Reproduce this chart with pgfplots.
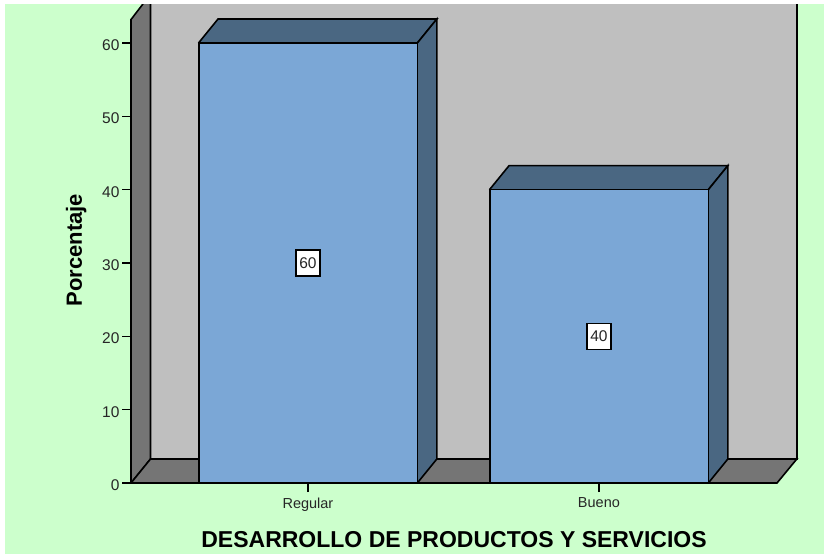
\documentclass[border=0pt]{standalone}
\usepackage{pgfplots}
\usepackage{fontspec}
\setmainfont{Liberation Sans}
\pgfplotsset{compat=1.18}
\definecolor{bgG}{HTML}{CCFFCC}
\definecolor{wallG}{HTML}{BFBFBF}
\definecolor{floorG}{HTML}{757575}
\definecolor{barB}{HTML}{7BA7D6}
\definecolor{barD}{HTML}{4A6782}
\begin{document}
\begin{tikzpicture}[x=1pt,y=1pt]
\useasboundingbox (0,0) rectangle (824,554);
\fill[white] (0,0) rectangle (824,554);
\fill[bgG] (5,0) rectangle (824,550);
\begin{axis}[
  at={(131pt,71pt)}, anchor=south west,
  scale only axis, width=646pt, height=479pt,
  xmin=-0.608, xmax=1.612, ymin=0, ymax=65.32,
  clip=false,
  axis line style={draw=none},
  xtick={0,1}, xticklabels={Regular,Bueno},
  ytick={0,10,20,30,40,50,60},
  xtick pos=bottom, ytick pos=left,
  tick align=outside, major tick length=9pt,
  tick style={black, line width=1.2pt},
  tick label style={font=\fontsize{15.5}{18}\selectfont, text=black!85},
  xticklabel style={font=\fontsize{14.5}{16}\selectfont, yshift=-2pt},
  yticklabel style={/pgf/number format/assume math mode=true, xshift=1pt, yshift=-2pt},
  xlabel={\bfseries DESARROLLO DE PRODUCTOS Y SERVICIOS},
  xlabel style={font=\fontsize{23}{26}\selectfont, at={(axis description cs:0.5,0)}, anchor=north, yshift=-45pt},
  ylabel={\bfseries Porcentaje},
  ylabel style={font=\fontsize{22}{24}\selectfont, at={(axis description cs:0,0.486)}, anchor=south, yshift=41pt},
]
% back wall
\addplot[fill=wallG, draw=black, line width=1.6pt] coordinates {(-0.541,3.27) (1.68,3.27) (1.68,66) (-0.541,66)};
% left wall
\addplot[fill=floorG, draw=black, line width=1.6pt] coordinates {(-0.608,0) (-0.541,3.27) (-0.541,66) (-0.567,66) (-0.567,65.32) (-0.608,63.2) (-0.608,0)};
% floor
\addplot[fill=floorG, draw=black, line width=1.6pt] coordinates {(-0.608,0) (1.612,0) (1.68,3.27) (-0.541,3.27) (-0.608,0)};
% bar depth faces
\addplot[fill=barD, draw=black, line width=1.6pt] coordinates {(-0.376,60) (-0.309,63.27) (0.443,63.27) (0.376,60)};
\addplot[fill=barD, draw=black, line width=1.6pt] coordinates {(0.376,0) (0.443,3.27) (0.443,63.27) (0.376,60)};
\addplot[fill=barD, draw=black, line width=1.6pt] coordinates {(0.624,40) (0.691,43.27) (1.443,43.27) (1.376,40)};
\addplot[fill=barD, draw=black, line width=1.6pt] coordinates {(1.376,0) (1.443,3.27) (1.443,43.27) (1.376,40)};
% bar fronts
\addplot[ybar, bar width=218.5pt, fill=barB, draw=black, line width=1.6pt, bar shift=0.5pt] coordinates {(0,60) (1,40)};
\draw[black, line width=1.6pt] (axis cs:-0.608,0) -- (axis cs:1.612,0);
\node[fill=white, draw=black, line width=1.2pt, inner sep=0pt, minimum width=24pt, minimum height=26pt, font=\fontsize{15.5}{18}\selectfont, text=black!85] at (axis cs:0,30) {60};
\node[fill=white, draw=black, line width=1.2pt, inner sep=0pt, minimum width=24pt, minimum height=26pt, font=\fontsize{15.5}{18}\selectfont, text=black!85] at (axis cs:1,20) {40};
\end{axis}
\fill[white] (0,550) rectangle (824,560);
\end{tikzpicture}
\end{document}
